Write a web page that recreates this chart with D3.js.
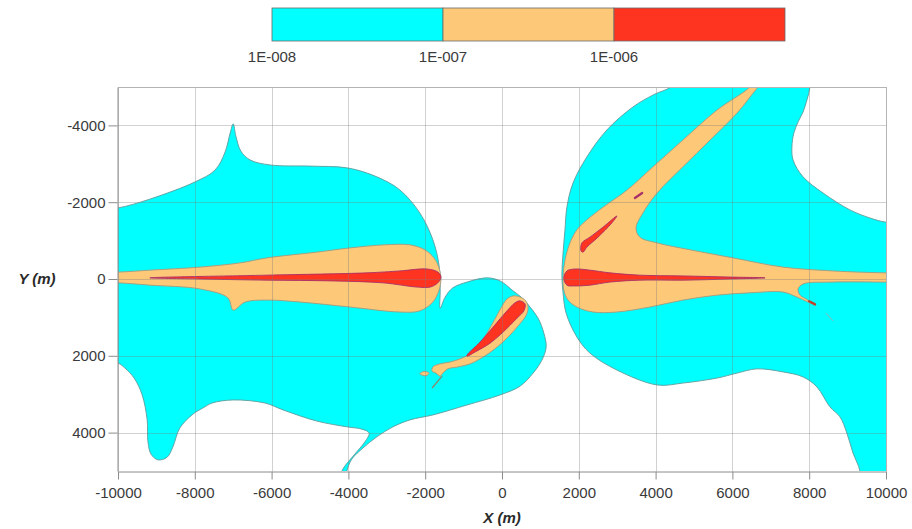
<!DOCTYPE html>
<html>
<head>
<meta charset="utf-8">
<script src="https://cdn.jsdelivr.net/npm/d3@7"></script>
<style>
  body { margin: 0; background: #fff; }
  text { font-family: "Liberation Sans", Arial, sans-serif; }
</style>
</head>
<body>
<div id="chart"></div>
<script>
// axis ticks (metres)
const xTicks = [-10000, -8000, -6000, -4000, -2000, 0, 2000, 4000, 6000, 8000, 10000];
const yTicks = [-4000, -2000, 0, 2000, 4000];

// colour bar
const legendLevels = ["1E-008", "1E-007", "1E-006"];
const legendColors = ["#00ffff", "#fdc877", "#ff3420"];

// contour outlines [x, y] in metres
// (points outside +-10000 / +-5000 are only there to close shapes past the frame)
const cyanWest = [
  [-10000, -1850], [-9170, -2080], [-7990, -2530], [-7470, -2840], [-7210, -3310], [-7080, -3800],
  [-7000, -4040], [-6930, -3720], [-6800, -3330], [-6560, -3100], [-6040, -2970], [-5000, -2940],
  [-4010, -2890], [-3260, -2660], [-2660, -2320], [-2140, -1720], [-1800, -1020], [-1640, -360],
  [-1610, 290], [-1610, 760], [-1480, 470], [-1280, 230], [-910, 80], [-390, -30], [-50, 50],
  [290, 310], [520, 490], [730, 730], [940, 1020], [1090, 1410], [1150, 1770], [1040, 2110],
  [810, 2450], [470, 2790], [-50, 3020], [-910, 3280], [-1800, 3540], [-2400, 3670], [-2840, 3850],
  [-3260, 4110], [-3620, 4400], [-3910, 4690], [-4040, 5000], [-4100, 5400], [-4250, 5400],
  [-4170, 5000], [-3850, 4580], [-3570, 4240], [-3460, 4010], [-3650, 3910], [-4040, 3850],
  [-4820, 3700], [-5700, 3410], [-6170, 3230], [-7000, 3150], [-7550, 3230], [-7790, 3360],
  [-8050, 3520], [-8390, 3880], [-8570, 4370], [-8720, 4640], [-8960, 4710], [-9140, 4560],
  [-9220, 4240], [-9240, 3670], [-9370, 3020], [-9580, 2580], [-9820, 2320], [-10000, 2190],
  [-10500, 2150], [-10500, -1800]
];
const orangeWest = [
  [-10000, -180], [-9170, -230], [-7860, -310], [-6820, -420], [-6120, -550], [-4820, -700],
  [-3960, -810], [-3050, -890], [-2400, -890], [-2010, -760], [-1770, -550], [-1640, -290],
  [-1590, 0], [-1640, 290], [-1800, 600], [-2140, 830], [-2660, 860], [-3960, 730], [-5260, 600],
  [-6090, 550], [-6690, 600], [-7000, 810], [-7140, 490], [-7860, 260], [-9170, 160],
  [-10000, 100], [-10500, 100], [-10500, -180]
];
const redWest = [
  [-9170, -30], [-6120, -100], [-3520, -160], [-2660, -210], [-1950, -260], [-1670, -180],
  [-1590, -50], [-1670, 100], [-1870, 210], [-2210, 210], [-3100, 100], [-4400, 50],
  [-6120, 30], [-7860, 0]
];
const orangeMid = [
  [-1800, 2290], [-1610, 2210], [-1350, 2160], [-1090, 2080], [-830, 1950], [-620, 1770],
  [-420, 1460], [-210, 1090], [-30, 760], [130, 520], [290, 440], [470, 470], [620, 570],
  [680, 760], [620, 960], [440, 1200], [160, 1510], [-160, 1800], [-490, 2030], [-830, 2210],
  [-1150, 2290], [-1410, 2340], [-1540, 2450], [-1610, 2530], [-1720, 2450], [-1820, 2400]
];
const orangeMidBlob = [[-2140, 2470], [-2030, 2410], [-1900, 2450], [-1980, 2520]];
const orangeMidTail = [[-1560, 2530], [-1820, 2840]];
const redMid = [
  [-910, 1980], [-570, 1640], [-230, 1250], [130, 830], [340, 620], [470, 570], [600, 650],
  [570, 830], [390, 1020], [30, 1380], [-310, 1670], [-700, 1900], [-910, 2010]
];
const cyanEast = [
  [4400, -5000], [3950, -4800], [3410, -4480], [2730, -3880], [2210, -3180], [1850, -2500],
  [1690, -1870], [1640, -1280], [1590, -680], [1560, -100], [1590, 360], [1670, 890],
  [1950, 1510], [2290, 1930], [2990, 2370], [4040, 2760], [4710, 2710], [5600, 2580],
  [6120, 2450], [6640, 2340], [7320, 2420], [7840, 2550], [8200, 2810], [8540, 3330],
  [8800, 3590], [8980, 4010], [9140, 4530], [9320, 5000], [9320, 5500], [10500, 5500],
  [10500, -1480], [10000, -1480], [9580, -1590], [9060, -1800], [8360, -2240], [7840, -2660],
  [7580, -3100], [7550, -3440], [7600, -3800], [7710, -4090], [7840, -4350], [7940, -4660],
  [8020, -5000], [8020, -5500], [4750, -5350]
];
const orangeEast = [
  [1590, -50], [1640, -490], [1770, -940], [1950, -1280], [2210, -1540], [2630, -1870],
  [3260, -2320], [3930, -2920], [4710, -3620], [5600, -4400], [6460, -5000], [6800, -5400],
  [7050, -5400], [6670, -5000], [6120, -4320], [5420, -3620], [4710, -2920], [4040, -2240],
  [3670, -1720], [3490, -1330], [3590, -1090], [4040, -940], [4900, -760], [6020, -550],
  [7320, -310], [8620, -210], [10000, -160], [10500, -160], [10500, 80], [10000, 80],
  [8620, 80], [7840, 130], [7710, 260], [7760, 420], [7920, 520], [8120, 650], [7970, 600],
  [7680, 470], [7320, 340], [6460, 360], [5600, 420], [4710, 550], [3850, 730], [2990, 860],
  [2370, 860], [1950, 730], [1720, 550], [1610, 290]
];
const redEast = [
  [1610, -30], [1690, -210], [1900, -260], [2290, -230], [2810, -160], [3590, -100],
  [4710, -80], [5940, -50], [6850, -30], [5940, 0], [4710, 30], [3590, 30], [2810, 80],
  [2290, 160], [1900, 180], [1690, 160]
];
const redEastArm = [
  [2060, -730], [2080, -940], [2290, -1090], [2630, -1350], [2990, -1640], [2860, -1460],
  [2500, -1090], [2210, -830], [2110, -700]
];
const redEastDash = [[3460, -2110], [3650, -2240]];
const redEastSpeck = [[8000, 580], [8150, 660]];
const faintEastLine = [[8440, 890], [8620, 1090]];

const W = 912, H = 529;
const plot = { left: 118, right: 886, top: 87, bottom: 471 };

const x = d3.scaleLinear().domain([-10000, 10000]).range([plot.left, plot.right]);
const y = d3.scaleLinear().domain([-5000, 5000]).range([plot.top, plot.bottom]);

const svg = d3.select("#chart").append("svg")
  .attr("width", W).attr("height", H)
  .style("background", "#fff");

svg.append("clipPath").attr("id", "plotClip")
  .append("rect")
  .attr("x", plot.left).attr("y", plot.top)
  .attr("width", plot.right - plot.left).attr("height", plot.bottom - plot.top);

const closedShape = d3.line()
  .x(d => x(d[0])).y(d => y(d[1]))
  .curve(d3.curveCatmullRomClosed.alpha(0.5));
const openLine = d3.line()
  .x(d => x(d[0])).y(d => y(d[1]));

const field = svg.append("g").attr("clip-path", "url(#plotClip)");

const cyanStroke = "#5f9c9c", orangeStroke = "#a39a80", redStroke = "#a8306a";

function shape(pts, fill, stroke) {
  field.append("path")
    .attr("d", closedShape(pts))
    .attr("fill", fill)
    .attr("stroke", stroke)
    .attr("stroke-width", 0.9)
    .attr("stroke-linejoin", "round");
}

// concentration bands
shape(cyanWest, legendColors[0], cyanStroke);
shape(cyanEast, legendColors[0], cyanStroke);
shape(orangeWest, legendColors[1], orangeStroke);
shape(orangeMid, legendColors[1], orangeStroke);
shape(orangeMidBlob, legendColors[1], orangeStroke);
shape(orangeEast, legendColors[1], orangeStroke);
shape(redWest, legendColors[2], redStroke);
shape(redMid, legendColors[2], redStroke);
shape(redEast, legendColors[2], redStroke);
shape(redEastArm, legendColors[2], redStroke);

field.append("path").attr("d", openLine(orangeMidTail))
  .attr("fill", "none").attr("stroke", "#8a8a70").attr("stroke-width", 1.4);
field.append("path").attr("d", openLine(redEastDash))
  .attr("fill", "none").attr("stroke", redStroke).attr("stroke-width", 2.2).attr("stroke-linecap", "round");
field.append("path").attr("d", openLine(redEastSpeck))
  .attr("fill", "none").attr("stroke", "#c0402a").attr("stroke-width", 2.5).attr("stroke-linecap", "round");
field.append("path").attr("d", openLine(faintEastLine))
  .attr("fill", "none").attr("stroke", "#9ab0b0").attr("stroke-width", 1);

// grid on top, faint
const grid = svg.append("g").attr("stroke", "#7a7a7a").attr("stroke-opacity", 0.35).attr("stroke-width", 1);
grid.selectAll("line.gx").data(xTicks).enter().append("line")
  .attr("x1", d => Math.round(x(d)) + 0.5).attr("x2", d => Math.round(x(d)) + 0.5)
  .attr("y1", plot.top).attr("y2", plot.bottom);
grid.selectAll("line.gy").data(yTicks).enter().append("line")
  .attr("x1", plot.left).attr("x2", plot.right)
  .attr("y1", d => Math.round(y(d)) + 0.5).attr("y2", d => Math.round(y(d)) + 0.5);

// frame
svg.append("line").attr("x1", plot.left).attr("x2", plot.right)
  .attr("y1", plot.top + 0.5).attr("y2", plot.top + 0.5).attr("stroke", "#b4b4b4");
svg.append("line").attr("x1", plot.right + 0.5).attr("x2", plot.right + 0.5)
  .attr("y1", plot.top).attr("y2", plot.bottom).attr("stroke", "#b4b4b4");

// axes
const plainNum = d => String(d);
const xAxis = svg.append("g")
  .attr("transform", `translate(0,${plot.bottom + 0.5})`)
  .call(d3.axisBottom(x).tickValues(xTicks).tickFormat(plainNum).tickSize(8).tickPadding(8).tickSizeOuter(0));
const yAxis = svg.append("g")
  .attr("transform", `translate(${plot.left - 0.5},0)`)
  .call(d3.axisLeft(y).tickValues(yTicks).tickFormat(plainNum).tickSize(9).tickPadding(3).tickSizeOuter(0));

[xAxis, yAxis].forEach(g => {
  g.select(".domain").attr("stroke", "#8c8c8c");
  g.selectAll(".tick line").attr("stroke", "#8c8c8c");
  g.selectAll(".tick text")
    .attr("fill", "#3a3a3a")
    .style("font-size", "15px")
    .style("font-family", "'Liberation Sans', Arial, sans-serif");
});

// axis titles
svg.append("text")
  .attr("x", x(0)).attr("y", 523)
  .attr("text-anchor", "middle")
  .style("font-size", "15px").style("font-weight", "bold").style("font-style", "italic")
  .attr("fill", "#2a2a2a")
  .text("X (m)");
svg.append("text")
  .attr("x", 37).attr("y", y(0)).attr("dy", "0.35em")
  .attr("text-anchor", "middle")
  .style("font-size", "15px").style("font-weight", "bold").style("font-style", "italic")
  .attr("fill", "#2a2a2a")
  .text("Y (m)");

// colour bar legend
const lg = d3.scaleLinear().domain([0, 3]).range([272, 785]);
const legend = svg.append("g");
legend.selectAll("rect").data(legendColors).enter().append("rect")
  .attr("x", (d, i) => lg(i)).attr("y", 8)
  .attr("width", (d, i) => lg(i + 1) - lg(i)).attr("height", 33)
  .attr("fill", d => d)
  .attr("stroke", "#6a6a6a").attr("stroke-width", 0.8);
legend.selectAll("text").data(legendLevels).enter().append("text")
  .attr("x", (d, i) => lg(i)).attr("y", 62)
  .attr("text-anchor", "middle")
  .style("font-size", "15px")
  .attr("fill", "#3a3a3a")
  .text(d => d);
</script>
</body>
</html>
